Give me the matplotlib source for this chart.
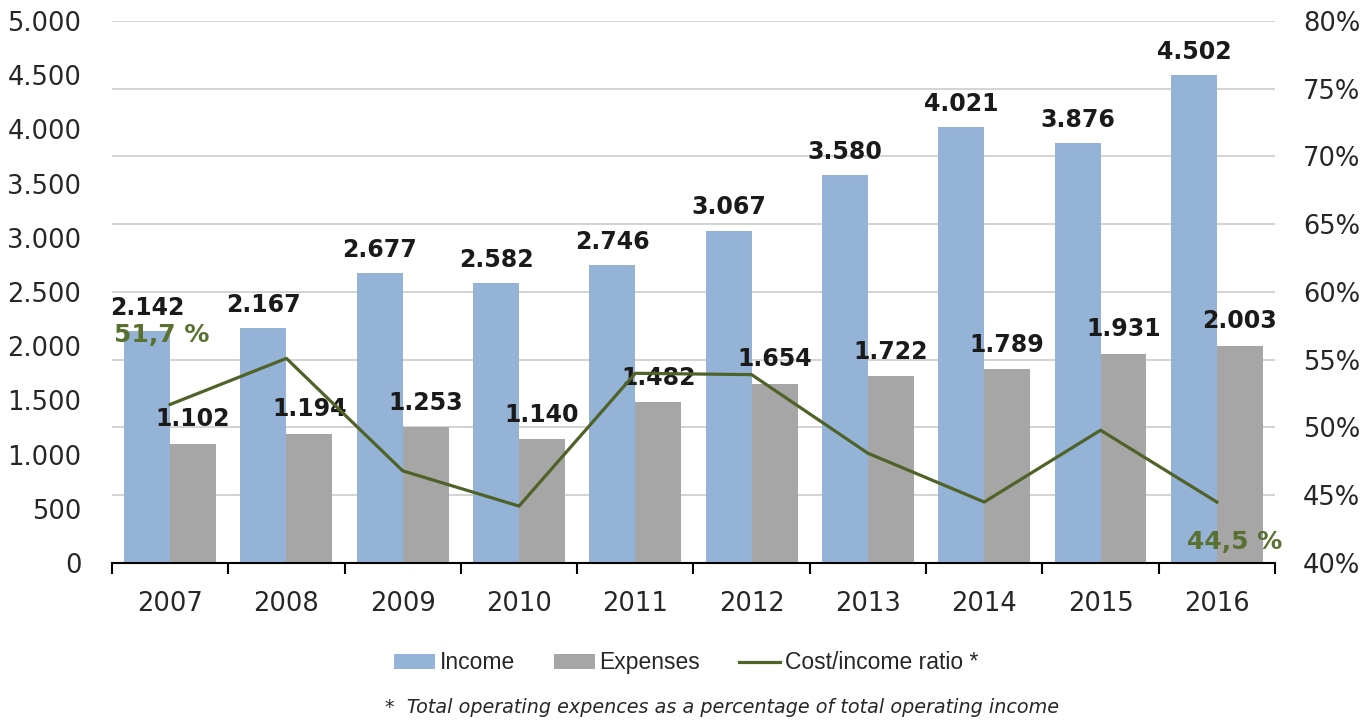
import numpy as np
import matplotlib
matplotlib.use("Agg")
import matplotlib.pyplot as plt
from matplotlib.ticker import FixedLocator, FuncFormatter
from matplotlib.patches import Patch
from matplotlib.lines import Line2D

years = ["2007", "2008", "2009", "2010", "2011", "2012", "2013", "2014", "2015", "2016"]
income = [2142, 2167, 2677, 2582, 2746, 3067, 3580, 4021, 3876, 4502]
expenses = [1102, 1194, 1253, 1140, 1482, 1654, 1722, 1789, 1931, 2003]
cost_income_ratio = [51.7, 55.1, 46.8, 44.2, 54.0, 53.9, 48.1, 44.5, 49.8, 44.5]

left_ticks = list(range(0, 5001, 500))
right_ticks = list(range(40, 81, 5))

INCOME_COLOR = "#95B3D7"
EXPENSE_COLOR = "#A6A6A6"
LINE_COLOR = "#4F6228"
PCT_COLOR = "#587030"
TEXT_COLOR = "#262626"


def thousands(v):
    return f"{v:,}".replace(",", ".")


fig = plt.figure(figsize=(13.72, 7.23), dpi=100)
ax = fig.add_axes([0.0816, 0.2213, 0.8477, 0.7497])
ax2 = ax.twinx()

x = np.arange(len(years))
w = 0.395

ax.bar(x - w / 2, income, width=w, color=INCOME_COLOR, zorder=2)
ax.bar(x + w / 2, expenses, width=w, color=EXPENSE_COLOR, zorder=2)

ax.set_xlim(-0.5, len(years) - 0.5)
ax.set_ylim(left_ticks[0], left_ticks[-1])
ax2.set_ylim(right_ticks[0], right_ticks[-1])

# gridlines follow the percentage scale but sit behind the bars
lo, hi = right_ticks[0], right_ticks[-1]
grid_pos = [(p - lo) / (hi - lo) * left_ticks[-1] for p in right_ticks]
ax.yaxis.remove_overlapping_locs = False
ax.yaxis.set_minor_locator(FixedLocator(grid_pos))
ax.grid(which="minor", axis="y", color="#D0D0D0", linewidth=1.3, zorder=0)
ax.tick_params(axis="y", which="minor", length=0)

ax.set_yticks(left_ticks)
ax.yaxis.set_major_formatter(FuncFormatter(lambda v, p: thousands(int(v))))
ax.tick_params(axis="y", which="major", length=0, pad=22, labelsize=18.5,
               labelcolor=TEXT_COLOR)

ax2.set_yticks(right_ticks)
ax2.yaxis.set_major_formatter(FuncFormatter(lambda v, p: f"{int(v)}%"))
ax2.tick_params(axis="y", length=0, pad=20, labelsize=18.5, labelcolor=TEXT_COLOR)

ax.set_xticks(x)
ax.set_xticklabels(years)
ax.tick_params(axis="x", which="major", length=0, pad=20, labelsize=18.5,
               labelcolor=TEXT_COLOR)
ax.xaxis.set_minor_locator(FixedLocator(np.arange(-0.5, len(years), 1.0)))
ax.tick_params(axis="x", which="minor", length=8, width=1.5, color="black",
               direction="out")

for a in (ax, ax2):
    for s in ("left", "right", "top", "bottom"):
        a.spines[s].set_visible(False)
ax.spines["bottom"].set_visible(True)
ax.spines["bottom"].set_linewidth(1.5)
ax.spines["bottom"].set_color("black")

ax2.plot(x, cost_income_ratio, color=LINE_COLOR, linewidth=2.3, zorder=3)

# value labels
for xi, v in zip(x, income):
    ax.annotate(thousands(v), (xi - w / 2, v), xytext=(0, 8),
                textcoords="offset points", ha="center", va="bottom",
                fontsize=17, fontweight="bold", color="#1a1a1a", zorder=5)
for xi, v in zip(x, expenses):
    ax.annotate(thousands(v), (xi + w / 2, v), xytext=(0, 9),
                textcoords="offset points", ha="center", va="bottom",
                fontsize=17, fontweight="bold", color="#1a1a1a", zorder=5)


def pct(v):
    return f"{v:.1f} %".replace(".", ",")


ax2.annotate(pct(cost_income_ratio[0]), (x[0], cost_income_ratio[0]),
             xytext=(-6, 50), textcoords="offset points", ha="center",
             va="center", fontsize=18, fontweight="bold", color=PCT_COLOR)
ax2.annotate(pct(cost_income_ratio[-1]), (x[-1], cost_income_ratio[-1]),
             xytext=(13, -29), textcoords="offset points", ha="center",
             va="center", fontsize=18, fontweight="bold", color=PCT_COLOR)

handles = [Patch(facecolor=INCOME_COLOR), Patch(facecolor=EXPENSE_COLOR),
           Line2D([0], [0], color=LINE_COLOR, linewidth=2.3)]
labels = ["Income", "Expenses", "Cost/income ratio *"]
fig.legend(handles, labels, loc="center", bbox_to_anchor=(0.5, 0.083), ncol=3,
           frameon=False, prop={"family": "Liberation Sans", "size": 16.5},
           handlelength=1.8, handleheight=0.65, handletextpad=0.2,
           columnspacing=1.7, labelcolor=TEXT_COLOR)

fig.text(0.526, 0.022, "*  Total operating expences as a percentage of total operating income",
         ha="center", va="center", fontsize=13.8, style="italic", color=TEXT_COLOR)

fig.savefig("out.png", dpi=100, facecolor="white")
